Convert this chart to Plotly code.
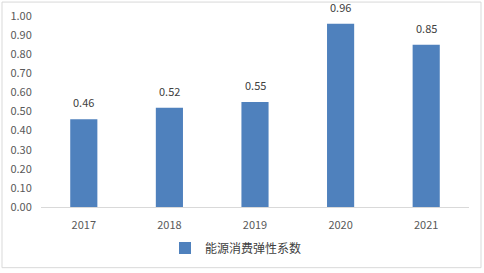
import plotly.graph_objects as go

years = ["2017", "2018", "2019", "2020", "2021"]
values = [0.46, 0.52, 0.55, 0.96, 0.85]
series_name = "能源消费弹性系数"
y_ticks = [0.0, 0.1, 0.2, 0.3, 0.4, 0.5, 0.6, 0.7, 0.8, 0.9, 1.0]

font = "Noto Sans CJK SC, Noto Sans, sans-serif"

L, R, T, B = 41, 15, 16, 65
W, H = 484, 273
pw, ph = W - L - R, H - T - B

fig = go.Figure()
fig.add_trace(go.Bar(
    x=years, y=values, name=series_name,
    marker=dict(color="#4F81BD", line=dict(width=0)),
    width=0.317,
))
for i, v in enumerate(values):
    fig.add_annotation(x=i, y=v, text=f"{v:.2f}", showarrow=False,
                       xref="x", yref="y",
                       yanchor="bottom", yshift=7,
                       font=dict(size=11, color="#404040", family=font))
fig.update_layout(
    width=W, height=H,
    margin=dict(l=L, r=R, t=T, b=B),
    paper_bgcolor="white", plot_bgcolor="white",
    font=dict(family=font, size=11, color="#595959"),
    showlegend=True,
    legend=dict(orientation="h", x=(165 - L) / pw, xanchor="left", y=-0.133,
                yanchor="top", font=dict(size=12, color="#404040"), itemwidth=30),
    shapes=[dict(type="rect", xref="paper", yref="paper",
                 x0=(2 - L) / pw, x1=(481 - L) / pw,
                 y0=-(269 - (T + ph)) / ph, y1=1 + (T - 2) / ph,
                 line=dict(color="#D9D9D9", width=1))],
)
fig.update_xaxes(type="category", range=[-0.5, 4.5],
                 showgrid=False, showline=True, linecolor="#D9D9D9", linewidth=1,
                 ticks="outside", ticklen=8, tickcolor="rgba(0,0,0,0)",
                 automargin=False, tickfont=dict(size=11, color="#595959"))
fig.update_yaxes(range=[0, 1.0], tickvals=y_ticks, ticktext=[f"{t:.2f}" for t in y_ticks],
                 showgrid=False, zeroline=False, showline=False, automargin=False,
                 ticks="outside", ticklen=6, tickcolor="rgba(0,0,0,0)",
                 tickfont=dict(size=11, color="#595959"))
fig.write_html("out.html", config={"displayModeBar": False},
               post_script="document.body.style.margin='0px';")
